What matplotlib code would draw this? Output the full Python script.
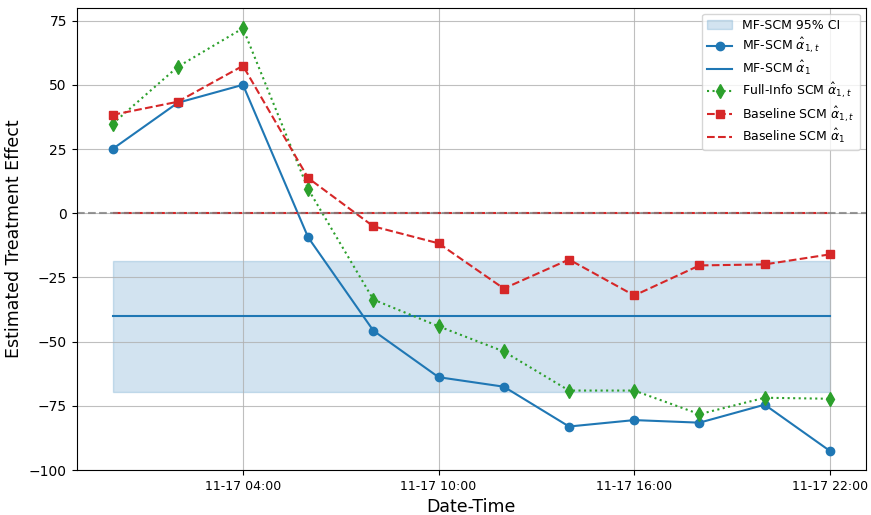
import matplotlib
matplotlib.use("Agg")
import matplotlib.pyplot as plt
import matplotlib.dates as mdates
from matplotlib.ticker import MultipleLocator
import pandas as pd

times = pd.date_range("2023-11-17 00:00", periods=12, freq="2h")

mf_alpha_t = [25.0, 43.0, 50.0, -9.4, -45.7, -63.8, -67.5, -83.0, -80.5, -81.5, -74.5, -92.5]
full_alpha_t = [34.8, 57.0, 72.0, 9.4, -33.6, -44.0, -53.8, -69.0, -69.0, -78.2, -71.8, -72.2]
base_alpha_t = [38.3, 43.4, 57.4, 13.7, -5.1, -11.7, -29.3, -18.0, -32.0, -20.3, -19.9, -16.0]

mf_alpha = -40.0
mf_ci = (-69.5, -18.4)
base_alpha = 0.0

fig, ax = plt.subplots(figsize=(8.71, 5.15), dpi=100)

ax.fill_between(times, mf_ci[0], mf_ci[1], color="tab:blue", alpha=0.2,
                label="MF-SCM 95% CI")
ax.plot(times, mf_alpha_t, "-o", color="tab:blue", markersize=6,
        label=r"MF-SCM $\hat{\alpha}_{1,t}$")
ax.plot(times, [mf_alpha] * len(times), "-", color="tab:blue",
        label=r"MF-SCM $\hat{\alpha}_1$")
ax.plot(times, full_alpha_t, ":d", color="tab:green", markersize=7,
        label=r"Full-Info SCM $\hat{\alpha}_{1,t}$")
ax.plot(times, base_alpha_t, "--s", color="tab:red", markersize=6,
        label=r"Baseline SCM $\hat{\alpha}_{1,t}$")
ax.plot(times, [base_alpha] * len(times), "--", color="tab:red",
        label=r"Baseline SCM $\hat{\alpha}_1$")
ax.axhline(0, color="gray", linestyle="--", alpha=0.8)

ax.set_ylim(-100, 80)
ax.yaxis.set_major_locator(MultipleLocator(25))
ax.xaxis.set_major_locator(mdates.HourLocator(byhour=[4, 10, 16, 22]))
ax.xaxis.set_major_formatter(mdates.DateFormatter("%m-%d %H:%M"))
ax.tick_params(axis="x", labelsize=9)
ax.tick_params(axis="y", labelsize=10)
ax.grid(True, alpha=0.8)
ax.set_xlabel("Date-Time", fontsize=12.5)
ax.set_ylabel("Estimated Treatment Effect", fontsize=12.5)
ax.legend(loc="upper right", fontsize=9, labelspacing=0.3)

fig.subplots_adjust(left=0.088, right=0.994, top=0.985, bottom=0.087)
fig.savefig("out.png", dpi=100)
